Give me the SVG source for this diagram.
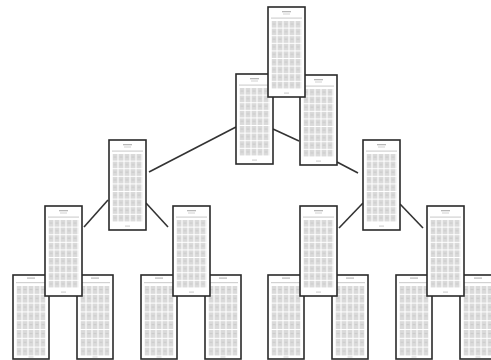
<svg xmlns="http://www.w3.org/2000/svg" xmlns:xlink="http://www.w3.org/1999/xlink" width="491" height="360" viewBox="0 0 491 360">
<style>
.edge{stroke:#333;stroke-width:1.6;fill:none}
.frame{fill:#fff;stroke:#2a2a2a;stroke-width:1.6}
.ink{fill:#b8b8b8}
.faint{fill:#d2d2d2}
</style>
<defs>
<pattern id="cells" patternUnits="userSpaceOnUse" width="6" height="7.6" x="3.5" y="14">
<rect x="0" y="0" width="5" height="6.6" fill="#dadada"/>
<rect x="1.2" y="2.5" width="2.6" height="1" fill="#c8c8c8"/>
</pattern>
<pattern id="cellsLeaf" patternUnits="userSpaceOnUse" width="6" height="8.8" x="3.5" y="11">
<rect x="0" y="0" width="5" height="7.8" fill="#dadada"/>
<rect x="1.2" y="3" width="2.6" height="1" fill="#c8c8c8"/>
</pattern>
<g id="page">
<rect class="frame" x="0" y="0" width="37" height="90"/>
<rect class="ink" x="14" y="4" width="9" height="1.3"/>
<rect class="faint" x="15" y="6.5" width="7" height="1"/>
<rect class="faint" x="3" y="10.5" width="31" height="1.2"/>
<rect x="3.5" y="14" width="30" height="68" fill="url(#cells)"/>
<rect class="faint" x="16" y="85.5" width="5" height="1.2"/>
</g>
<g id="leafpage">
<rect class="frame" x="0" y="0" width="36" height="84"/>
<rect class="ink" x="14" y="2.5" width="8" height="1.2"/>
<rect class="faint" x="3" y="7" width="30" height="1.2"/>
<rect x="3.5" y="11" width="29" height="70" fill="url(#cellsLeaf)"/>
<rect class="faint" x="15.5" y="81.5" width="5" height="1"/>
</g>
</defs>
<rect width="491" height="360" fill="#fff"/>
<g id="connectors">
<line class="edge" x1="236" y1="127" x2="149" y2="172"/>
<line class="edge" x1="273" y1="129" x2="299" y2="141"/>
<line class="edge" x1="337" y1="162" x2="358" y2="173"/>
<line class="edge" x1="108" y1="200" x2="84" y2="227"/>
<line class="edge" x1="146" y1="203" x2="168" y2="227"/>
<line class="edge" x1="363" y1="203" x2="339" y2="228"/>
<line class="edge" x1="400" y1="204" x2="423" y2="228"/>
</g>
<g id="leaf1"><use xlink:href="#leafpage" x="13" y="275"/></g>
<g id="leaf2"><use xlink:href="#leafpage" x="77" y="275"/></g>
<g id="leaf3"><use xlink:href="#leafpage" x="141" y="275"/></g>
<g id="leaf4"><use xlink:href="#leafpage" x="205" y="275"/></g>
<g id="leaf5"><use xlink:href="#leafpage" x="268" y="275"/></g>
<g id="leaf6"><use xlink:href="#leafpage" x="332" y="275"/></g>
<g id="leaf7"><use xlink:href="#leafpage" x="396" y="275"/></g>
<g id="leaf8"><use xlink:href="#leafpage" x="460" y="275"/></g>
<g id="l3a"><use xlink:href="#page" x="45" y="206"/></g>
<g id="l3b"><use xlink:href="#page" x="173" y="206"/></g>
<g id="l3c"><use xlink:href="#page" x="300" y="206"/></g>
<g id="l3d"><use xlink:href="#page" x="427" y="206"/></g>
<g id="l2a"><use xlink:href="#page" x="109" y="140"/></g>
<g id="l2b"><use xlink:href="#page" x="363" y="140"/></g>
<g id="l1b"><use xlink:href="#page" x="300" y="75"/></g>
<g id="l1a"><use xlink:href="#page" x="236" y="74"/></g>
<g id="root"><use xlink:href="#page" x="268" y="7"/></g>
</svg>
